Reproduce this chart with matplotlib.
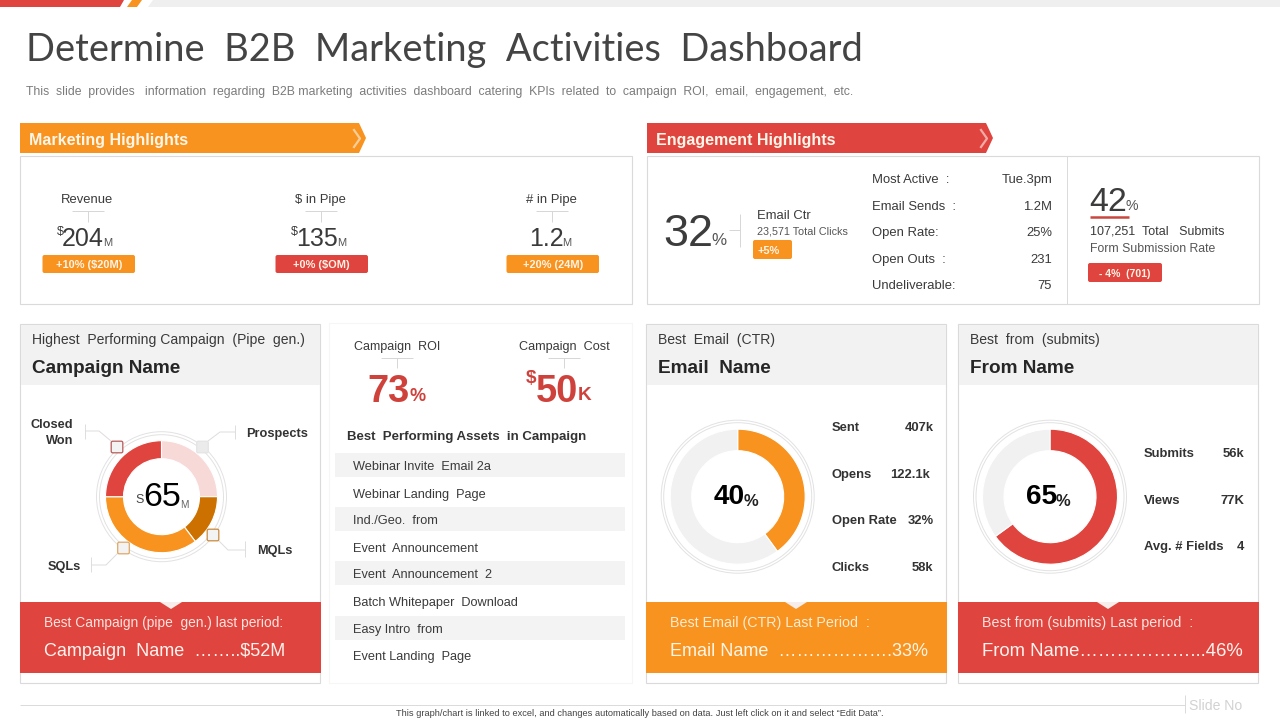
import matplotlib
matplotlib.use("Agg")
import matplotlib.pyplot as plt
from matplotlib.patches import Rectangle, Polygon, Circle, FancyBboxPatch

ORANGE = "#F7931E"
RED = "#DF453E"
DARK = "#3A3A3A"
GREY = "#F1F1F1"
EDGE = "#DADADA"
BODY = "Liberation Sans"

title = "Determine  B2B  Marketing  Activities  Dashboard"
subtitle = ("This  slide  provides   information  regarding  B2B marketing  activities  dashboard  "
            "catering  KPIs  related  to  campaign  ROI,  email,  engagement,  etc.")
footnote = "This graph/chart is linked to excel, and changes automatically based on data. Just left click on it and select \u201cEdit Data\u201d."

highlight_labels = ["Revenue", "$ in Pipe", "# in Pipe"]
highlight_values = ["204", "135", "1.2"]
highlight_prefix = ["$", "$", ""]
highlight_badges = ["+10% ($20M)", "+0% ($OM)", "+20% (24M)"]

engagement_labels = ["Most Active  :", "Email Sends  :", "Open Rate:", "Open Outs  :", "Undeliverable:"]
engagement_values = ["Tue.3pm", "1.2M", "25%", "231", "75"]

assets = ["Webinar Invite  Email 2a", "Webinar Landing  Page", "Ind./Geo.  from", "Event  Announcement",
          "Event  Announcement  2", "Batch Whitepaper  Download", "Easy Intro  from", "Event Landing  Page"]

funnel_labels = ["Prospects", "MQLs", "SQLs", "Closed Won"]
funnel_shares = [25, 14.7, 35.3, 25]
funnel_colors = ["#F7D9D8", "#CC7000", ORANGE, RED]

email_share = [40, 60]
from_share = [65, 35]

email_labels = ["Sent", "Opens", "Open Rate", "Clicks"]
email_values = ["407k", "122.1k", "32%", "58k"]
from_labels = ["Submits", "Views", "Avg. # Fields"]
from_values = ["56k", "77K", "4"]

W, H = 1280, 720
fig = plt.figure(figsize=(12.8, 7.2), dpi=100, facecolor="white")
ax = fig.add_axes([0, 0, 1, 1])
ax.set_xlim(0, W)
ax.set_ylim(H, 0)
ax.axis("off")


def T(x, y, s, px, color=DARK, ha="left", va="center_baseline", weight="normal", family=BODY, **kw):
    return ax.text(x, y + 1.5, s, fontsize=px * 0.72, color=color, ha=ha, va=va, weight=weight,
                   family=family, **kw)


def box(x0, y0, x1, y1, fc="white", ec="none", lw=0.8, z=1):
    ax.add_patch(Rectangle((x0, y0), x1 - x0, y1 - y0, fc=fc, ec=ec, lw=lw, zorder=z))


def line(xs, ys, color="#D6D6D6", lw=0.7):
    ax.plot(xs, ys, color=color, lw=lw, solid_capstyle="butt", zorder=2)


def badge(x0, y0, x1, y1, color, text, px=11, tx=None, ha="center"):
    ax.add_patch(FancyBboxPatch((x0 + 1.5, y0 + 1.5), x1 - x0 - 3, y1 - y0 - 3,
                                boxstyle="round,pad=1.5,rounding_size=2", fc=color, ec="none", zorder=3))
    T((x0 + x1) / 2 if tx is None else tx, (y0 + y1) / 2 - 1, text, px, color="#FFF3E6", ha=ha,
      weight="bold").set_zorder(4)


def header(x0, x1, color, text):
    ax.add_patch(Polygon([(x0, 123), (x1 - 7, 123), (x1, 138), (x1 - 7, 153), (x0, 153)], fc=color, ec="none", zorder=2))
    ax.plot([x1 - 12, x1 - 6, x1 - 12], [130, 138.5, 147], color="white", alpha=0.55, lw=1.6, zorder=3)
    T(x0 + 9, 138, text, 16, color="#FFF6EA", weight="bold").set_zorder(4)


def donut(cx, cy, shares, colors, r_out, r_in, ring1, ring2, gap_color="white"):
    size = 200
    a = fig.add_axes([(cx - size / 2) / W, 1 - (cy + size / 2) / H, size / W, size / H], zorder=2)
    a.set_aspect("equal")
    a.axis("off")
    a.patch.set_alpha(0)
    a.pie(shares, colors=colors, startangle=90, counterclock=False, radius=r_out,
          center=(0, 0), frame=False, wedgeprops=dict(width=r_out - r_in, edgecolor=gap_color, linewidth=0.8))
    a.set_xlim(-size / 2, size / 2)
    a.set_ylim(-size / 2, size / 2)
    for r in (ring1, ring2):
        a.add_patch(Circle((0, 0), r, fc="none", ec="#E2E2E2", lw=0.7))
    return a


# top strip
ax.add_patch(Polygon([(0, 0), (124, 0), (120, 7), (0, 7)], fc=RED, ec="none"))
ax.add_patch(Polygon([(132, 0), (142, 0), (137, 7), (127, 7)], fc=ORANGE, ec="none"))
ax.add_patch(Polygon([(153, 0), (1280, 0), (1280, 7), (148, 7)], fc="#EFEFEF", ec="none"))

T(26, 45.5, title, 38, color="#444444", family="Lato", weight="normal")
T(26, 89.5, subtitle, 12.27, color="#7B7B7B")

header(20, 366, ORANGE, "Marketing Highlights")
header(647, 993, RED, "Engagement Highlights")

# marketing highlights panel
box(20, 156, 632, 304, ec=EDGE)
hx = [88, 321, 552]
value_x = [83, 317, 546.5]
dollar_x = [56.5, 290.5, 0]
unit_x = [103, 337, 562]
for i, cx in enumerate(hx):
    T(cx - 0.5, 197, highlight_labels[i], 13, ha="center")
    line([cx - 16, cx + 16], [211, 211])
    line([cx, cx], [211, 222])
    T(value_x[i], 235.5, highlight_values[i], 25, ha="center")
    if highlight_prefix[i]:
        T(dollar_x[i], 229, highlight_prefix[i], 12.5)
    T(unit_x[i], 240, "M", 11, color="#555555")
    badge(cx - 45.5, 255, cx + 47, 273, [ORANGE, RED, ORANGE][i], highlight_badges[i])

# engagement panel
box(647, 156, 1259, 304, ec=EDGE)
line([1067, 1067], [156, 304], color=EDGE)
T(663, 228.5, "32", 45, color="#3C3C3C")
T(711, 237.5, "%", 17, color="#555555")
line([740, 740], [214, 247])
line([729, 740], [230, 230])
T(757, 213, "Email Ctr", 13)
T(757, 228.5, "23,571 Total Clicks", 10.7, color="#555555")
badge(753, 240, 792, 259, ORANGE, "+5%", px=11, tx=757, ha="left")
ey = [178, 205, 231, 258, 284]
for yy, l, v in zip(ey, engagement_labels, engagement_values):
    T(872, yy - 1, l, 13)
    T(1052, yy - 1, v, 13, ha="right")
T(1089, 197.5, "42", 34, color="#3C3C3C")
T(1126, 203, "%", 14, color="#555555")
line([1090, 1129], [217, 217], color="#C9473F", lw=1.8)
T(1090, 228.5, "107,251  Total   Submits", 12.5)
T(1090, 246.5, "Form Submission Rate", 12.2, color="#555555")
badge(1088, 263, 1162, 282, RED, "- 4%  (701)", px=10.5)

# lower panels
for x0, x1 in [(20, 320), (646, 946), (958, 1258)]:
    box(x0, 324, x1, 683, ec=EDGE)
    box(x0 + 1, 325, x1 - 0.5, 385, fc="#F2F2F2", z=1.5)
box(329, 323, 632, 683, ec="#F6F6F6")

T(32, 337, "Highest  Performing Campaign  (Pipe  gen.)", 14)
T(32, 365, "Campaign Name", 19, color="#262626", weight="bold")
T(658, 337, "Best  Email  (CTR)", 14)
T(658, 365, "Email  Name", 19, color="#262626", weight="bold")
T(970, 337, "Best  from  (submits)", 14)
T(970, 365, "From Name", 19, color="#262626", weight="bold")

# campaign donut
donut(161.5, 496.7, funnel_shares, funnel_colors, 56, 38, 65, 62)

overlay = fig.add_axes([0, 0, 1, 1], zorder=5)
overlay.set_xlim(0, W)
overlay.set_ylim(H, 0)
overlay.axis("off")
overlay.patch.set_alpha(0)
for (bx, by, ec, fc) in [(117, 447, "#B75A5A", "#F3F3F3"), (202.5, 447, "#E4E4E4", "#EBEBEB"),
                         (213, 535, "#C98A3C", "#F3F3F3"), (123.5, 548, "#E0A765", "#F3F3F3")]:
    overlay.add_patch(FancyBboxPatch((bx - 5, by - 5), 10, 10, boxstyle="round,pad=0.8,rounding_size=1.5",
                                     fc=fc, ec=ec, lw=0.9))
overlay.text(162.5, 497, "65", fontsize=34 * 0.72, color="black", ha="center", va="center", family=BODY)
overlay.text(135.5, 500, "S", fontsize=12.5 * 0.72, color="#444444", va="center", family=BODY)
overlay.text(180, 505.5, "M", fontsize=10 * 0.72, color="#666666", va="center", family=BODY)
overlay.text(714, 497, "40", fontsize=28 * 0.72, color="black", weight="bold", va="center", family=BODY)
overlay.text(744, 501, "%", fontsize=16.5 * 0.72, color="#222222", weight="bold", va="center", family=BODY)
overlay.text(1026, 497, "65", fontsize=28 * 0.72, color="black", weight="bold", va="center", family=BODY)
overlay.text(1056, 501, "%", fontsize=16.5 * 0.72, color="#222222", weight="bold", va="center", family=BODY)

for xs, ys in [([85, 85], [424, 439]), ([85, 99, 111], [431, 431, 441]),
               ([235, 235], [425, 439]), ([235, 220, 208], [432, 432, 441]),
               ([245, 245], [541, 557]), ([245, 228, 218], [550, 550, 540]),
               ([91, 91], [557, 572]), ([91, 106, 118], [565, 565, 553])]:
    line(xs, ys, color="#DDDDDD")
T(73, 422, "Closed", 12.8, color="#333333", ha="right", weight="bold")
T(73, 438, "Won", 12.8, color="#333333", ha="right", weight="bold")
T(246, 431, "Prospects", 12.8, color="#333333", weight="bold")
T(257, 548, "MQLs", 12.8, color="#333333", weight="bold")
T(48, 564, "SQLs", 12.8, color="#333333", weight="bold")

# footer bands
for x0, x1, cx, c in [(20, 320.5, 171, RED), (646, 946.5, 796, ORANGE), (958, 1258.5, 1108, RED)]:
    box(x0, 602, x1, 673, fc=c, z=2)
    ax.add_patch(Polygon([(cx - 11, 602), (cx + 11, 602), (cx, 609)], fc="#F7EDEA", ec="none", zorder=3))
T(44, 620.5, "Best Campaign (pipe  gen.) last period:", 13.8, color="#FBE3DF").set_zorder(4)
T(44, 648.5, "Campaign  Name  \u2026\u2026..$52M", 18, color="#FFF3EF").set_zorder(4)
T(670, 620.5, "Best Email (CTR) Last Period  :", 14.2, color="#FDEBD2").set_zorder(4)
T(670, 648.5, "Email Name  \u2026\u2026\u2026\u2026\u2026\u2026.33%", 18, color="#FFF6E9").set_zorder(4)
T(982, 620.5, "Best from (submits) Last period  :", 14.2, color="#FBE3DF").set_zorder(4)
T(982, 648.5, "From Name\u2026\u2026\u2026\u2026\u2026\u2026...46%", 18.5, color="#FFF3EF").set_zorder(4)

# middle panel
T(397, 344, "Campaign  ROI", 12.5, ha="center")
T(564.5, 344, "Campaign  Cost", 12.6, ha="center")
for cx in (397, 564):
    line([cx - 16, cx + 16], [358, 358])
    line([cx, cx], [358, 368])
T(367, 386.5, "73", 38, color="#CF423C", weight="bold")
T(410, 393, "%", 18, color="#CF423C", weight="bold")
T(526, 375, "$", 19, color="#CF423C", weight="bold")
T(536, 386.5, "50", 38, color="#CF423C", weight="bold")
T(578, 392, "K", 19, color="#CF423C", weight="bold")
T(347, 434, "Best  Performing Assets  in Campaign", 13.2, color="#333333", weight="bold")
ay = [465, 493, 519, 547, 573, 601, 628, 655]
for i, (yy, s) in enumerate(zip(ay, assets)):
    if i % 2 == 0:
        box(335, yy - 12, 625, yy + 12, fc="#F3F3F3", z=1.5)
    T(353, yy - 1, s, 12.8)

# email donut
donut(737.7, 496.7, email_share, [ORANGE, "#F1F1F1"], 67.5, 46, 76.5, 74)
for yy, l, v, vx in zip([426, 473, 519, 566], email_labels, email_values, [934, 930, 934, 933]):
    T(832, yy - 1, l, 13, color="#333333", weight="bold")
    T(vx, yy - 1, v, 13, color="#333333", ha="right", weight="bold")

# from donut
donut(1050, 496.7, from_share, [RED, "#F1F1F1"], 67.5, 46, 76.5, 74)
for yy, l, v in zip([452, 499, 545], from_labels, from_values):
    T(1144, yy - 1, l, 13, color="#333333", weight="bold")
    T(1244, yy - 1, v, 13, color="#333333", ha="right", weight="bold")

# page foot
line([20, 1185], [705, 705], color="#DADADA")
line([1185, 1185], [695, 713], color="#DADADA")
T(1189, 703, "Slide No", 14, color="#D2D2D2")
T(640, 710.5, footnote, 9.3, color="#444444", ha="center")

fig.savefig("out.png", dpi=100)
